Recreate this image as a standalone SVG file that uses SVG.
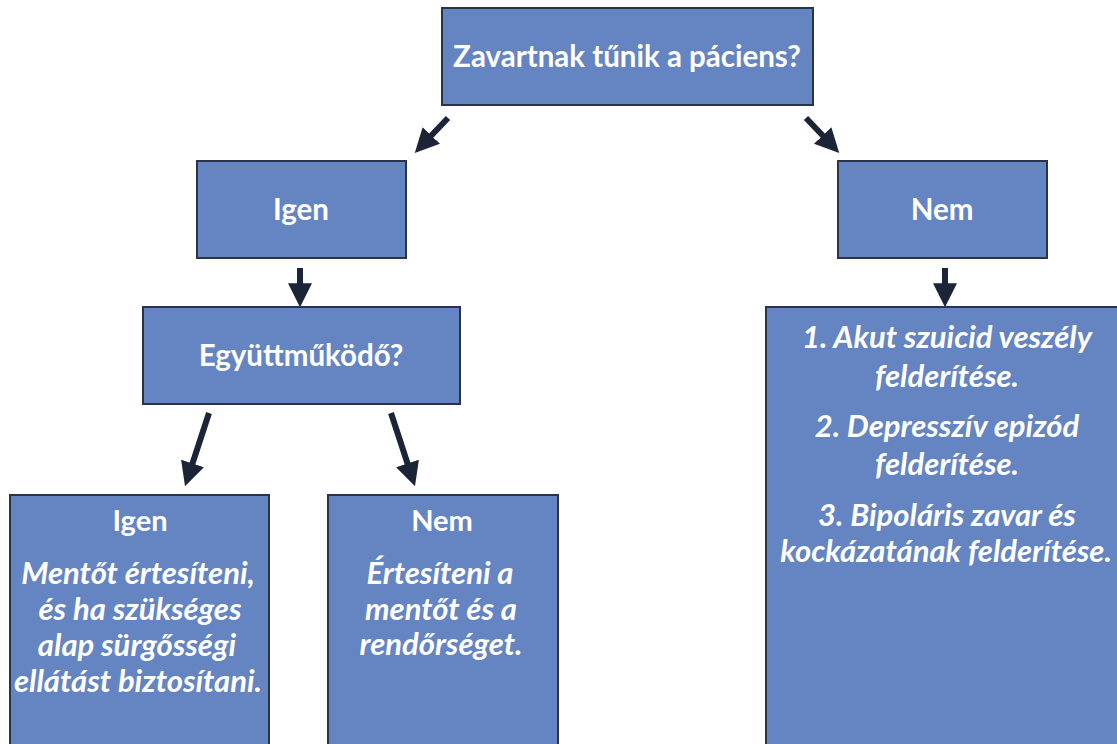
<svg xmlns="http://www.w3.org/2000/svg" width="1117" height="744" viewBox="0 0 1117 744">
  <style>
    .box { fill: #6584c2; stroke: #2a3448; stroke-width: 2; }
    .title { font-family: Lato, "Liberation Sans", sans-serif; font-weight: bold; font-size: 29.5px; fill: #ffffff; text-anchor: middle; }
    .head { font-family: Lato, "Liberation Sans", sans-serif; font-weight: bold; font-size: 29px; fill: #ffffff; text-anchor: middle; }
    .body { font-family: Lato, "Liberation Sans", sans-serif; font-weight: bold; font-style: italic; font-size: 31px; fill: #ffffff; text-anchor: middle; }
    .conn { stroke: #1c2538; stroke-width: 6; fill: none; marker-end: url(#head); }
  </style>
  <defs>
    <marker id="head" viewBox="0 0 10 10" refX="2" refY="5" markerWidth="4" markerHeight="4" orient="auto" markerUnits="strokeWidth">
      <path d="M0,0 L10,5 L0,10 Z" fill="#1c2538"/>
    </marker>
  </defs>

  <g id="connectors">
    <line class="conn" x1="448" y1="118" x2="428" y2="139"/>
    <line class="conn" x1="806" y1="118" x2="826" y2="139"/>
    <line class="conn" x1="300" y1="268" x2="300" y2="288"/>
    <line class="conn" x1="945" y1="268" x2="945" y2="288"/>
    <line class="conn" x1="209" y1="413" x2="191" y2="468"/>
    <line class="conn" x1="391" y1="413" x2="409" y2="468"/>
  </g>

  <g id="n-question">
    <rect class="box" x="442" y="8" width="371" height="97"/>
    <text class="title" x="627" y="67">Zavartnak tűnik a páciens?</text>
  </g>

  <g id="n-igen">
    <rect class="box" x="197" y="161" width="209" height="97"/>
    <text class="title" x="301" y="220">Igen</text>
  </g>

  <g id="n-nem">
    <rect class="box" x="838" y="161" width="209" height="97"/>
    <text class="title" x="942" y="220">Nem</text>
  </g>

  <g id="n-egyuttmukodo">
    <rect class="box" x="143" y="307" width="317" height="97"/>
    <text class="title" x="301" y="366">Együttműködő?</text>
  </g>

  <g id="n-igen-action">
    <rect class="box" x="10" y="495" width="259" height="260"/>
    <text class="head" x="140" y="531">Igen</text>
    <text class="body" x="138" y="584">Mentőt értesíteni,</text>
    <text class="body" x="140" y="620">és ha szükséges</text>
    <text class="body" x="137" y="656">alap sürgősségi</text>
    <text class="body" x="138" y="692">ellátást biztosítani.</text>
  </g>

  <g id="n-nem-action">
    <rect class="box" x="328" y="495" width="230" height="260"/>
    <text class="head" x="442" y="531">Nem</text>
    <text class="body" x="440" y="584">Értesíteni a</text>
    <text class="body" x="441" y="620">mentőt és a</text>
    <text class="body" x="441" y="655">rendőrséget.</text>
  </g>

  <g id="n-assessment">
    <rect class="box" x="766" y="307" width="360" height="450"/>
    <text class="body" x="947" y="348">1. Akut szuicid veszély</text>
    <text class="body" x="947" y="387">felderítése.</text>
    <text class="body" x="947" y="437">2. Depresszív epizód</text>
    <text class="body" x="947" y="475">felderítése.</text>
    <text class="body" x="947" y="526">3. Bipoláris zavar és</text>
    <text class="body" x="946" y="562">kockázatának felderítése.</text>
  </g>
</svg>
